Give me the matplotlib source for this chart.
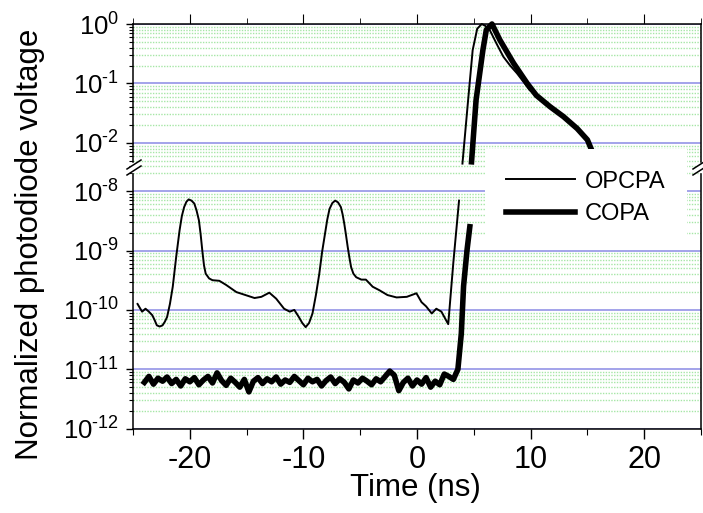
import numpy as np
import matplotlib.pyplot as plt
from matplotlib.ticker import LogLocator, FuncFormatter, MultipleLocator, NullFormatter
from matplotlib.lines import Line2D
import matplotlib.patches as patches

plt.rcParams['font.family'] = ['Liberation Sans', 'DejaVu Sans']
plt.rcParams['mathtext.fontset'] = 'custom'
plt.rcParams['mathtext.rm'] = 'Liberation Sans'
plt.rcParams['mathtext.default'] = 'regular'
plt.rcParams['axes.unicode_minus'] = False

# OPCPA, lower (ASE pedestal) part: time (ns), log10 of normalized voltage
opcpa_low_t = [-24.6, -24.2, -23.9, -23.6, -23.3, -23.1, -22.9, -22.65, -22.4, -22.2,
               -22.0, -21.75, -21.5, -21.2, -20.9, -20.7, -20.5, -20.3, -20.1, -19.85,
               -19.6, -19.4, -19.2, -19.05, -18.9, -18.75, -18.6, -18.3, -18.0, -17.4,
               -16.8, -15.9, -15.1, -14.3, -13.7, -13.0, -12.4, -11.7, -11.2, -10.8,
               -10.4, -10.1, -9.8, -9.5, -9.2, -8.9, -8.6, -8.35, -8.1, -7.9,
               -7.7, -7.45, -7.2, -6.95, -6.7, -6.55, -6.4, -6.25, -6.1, -5.95,
               -5.8, -5.6, -5.35, -4.9, -4.5, -3.9, -3.3, -2.6, -1.8, -0.9,
               -0.05, 0.4, 0.8, 1.3, 1.7, 2.15, 2.75, 3.2, 3.7]
opcpa_low_v = [-9.90, -10.03, -9.98, -10.03, -10.09, -10.17, -10.26, -10.28, -10.26, -10.20,
               -10.12, -9.90, -9.61, -9.11, -8.66, -8.42, -8.27, -8.18, -8.14, -8.16,
               -8.21, -8.33, -8.49, -8.72, -9.00, -9.25, -9.39, -9.47, -9.50, -9.51,
               -9.58, -9.70, -9.75, -9.80, -9.78, -9.71, -9.81, -9.98, -10.03, -10.00,
               -10.12, -10.22, -10.29, -10.22, -10.06, -9.75, -9.39, -9.02, -8.72, -8.48,
               -8.30, -8.20, -8.16, -8.19, -8.27, -8.39, -8.55, -8.74, -8.94, -9.12,
               -9.28, -9.39, -9.45, -9.49, -9.49, -9.61, -9.67, -9.75, -9.79, -9.78,
               -9.72, -9.87, -9.94, -10.06, -9.98, -10.03, -10.24, -9.20, -8.16]

# OPCPA, upper (main pulse) part
opcpa_high_t = [4.0, 4.5, 4.9, 5.3, 5.7, 6.0, 6.4, 7.0, 7.6, 8.2, 8.8, 9.4, 9.9,
                10.5, 11.7, 12.9, 14.1, 15.0, 15.5, 15.8]
opcpa_high_v = [-2.35, -1.28, -0.44, -0.08, 0.0, -0.03, -0.10, -0.33, -0.55, -0.70,
                -0.83, -0.98, -1.11, -1.20, -1.39, -1.56, -1.76, -1.95, -2.18, -2.21]

# COPA, lower part (noise floor and rising edge)
copa_low_t = [-24.0, -23.6, -23.2, -22.8, -22.4, -22.0, -21.6, -21.2, -20.8, -20.4,
              -20.0, -19.6, -19.2, -18.8, -18.4, -18.0, -17.6, -17.2, -16.8, -16.4,
              -16.0, -15.6, -15.2, -14.8, -14.4, -14.0, -13.6, -13.2, -12.8, -12.4,
              -12.0, -11.6, -11.2, -10.8, -10.4, -10.0, -9.6, -9.2, -8.8, -8.4,
              -8.0, -7.6, -7.2, -6.8, -6.4, -6.0, -5.6, -5.2, -4.8, -4.4,
              -4.0, -3.6, -3.2, -2.8, -2.4, -2.0, -1.6, -1.2, -0.8, -0.4,
              0.0, 0.4, 0.8, 1.2, 1.6, 2.0, 2.4, 2.8, 3.2,
              3.6, 3.9, 4.1, 4.4, 4.65]
copa_low_v = [-11.22, -11.12, -11.25, -11.15, -11.20, -11.13, -11.24, -11.17, -11.28, -11.16,
              -11.21, -11.14, -11.26, -11.18, -11.12, -11.23, -11.06, -11.19, -11.27, -11.15,
              -11.22, -11.30, -11.17, -11.38, -11.20, -11.14, -11.24, -11.16, -11.21, -11.13,
              -11.25, -11.18, -11.22, -11.12, -11.19, -11.26, -11.15, -11.21, -11.17, -11.28,
              -11.19, -11.13, -11.24, -11.16, -11.22, -11.33, -11.18, -11.23, -11.15, -11.20,
              -11.26, -11.16, -11.21, -11.12, -11.03, -11.10, -11.36, -11.22, -11.15, -11.28,
              -11.18, -11.25, -11.14, -11.30, -11.20, -11.26, -11.08, -11.12, -11.17,
              -11.00, -10.40, -9.60, -9.00, -8.60]

# COPA, upper part
copa_high_t = [4.8, 5.2, 5.8, 6.1, 6.6, 7.3, 8.5, 9.7, 10.5, 11.7, 12.9, 14.1, 15.0, 15.5, 15.8]
copa_high_v = [-2.32, -1.28, -0.44, -0.10, 0.0, -0.27, -0.66, -1.00, -1.20, -1.39,
               -1.56, -1.76, -1.95, -2.18, -2.21]

W, H = 703, 513


def fx(px):
    return px / W


def fy(py):
    return 1 - py / H


fig = plt.figure(figsize=(7.03, 5.13), dpi=100)
ax_top = fig.add_axes([fx(133), fy(168), fx(701) - fx(133), fy(24) - fy(168)])
ax_bot = fig.add_axes([fx(133), fy(428.7), fx(701) - fx(133), fy(168) - fy(428.7)])

fmt = FuncFormatter(lambda v, p: r'$10^{\text{-}%d}$' % abs(int(round(np.log10(v))))
                    if v < 0.5 else r'$10^{0}$')

for ax in (ax_top, ax_bot):
    ax.set_yscale('log')
    ax.set_xlim(-25, 25)
    ax.yaxis.set_major_locator(LogLocator(base=10, numticks=30))
    ax.yaxis.set_minor_locator(LogLocator(base=10, subs=np.arange(2, 10), numticks=30))
    ax.yaxis.set_major_formatter(fmt)
    ax.yaxis.set_minor_formatter(NullFormatter())
    ax.xaxis.set_major_locator(MultipleLocator(10))
    ax.xaxis.set_minor_locator(MultipleLocator(5))
    ax.set_axisbelow(True)
    ax.grid(True, which='minor', axis='y', color='#a6e6a6', lw=1.0, ls=(0, (1, 1)))
    ax.grid(True, which='major', axis='y', color='#9c9ce8', lw=1.3)
    ax.tick_params(axis='y', which='major', direction='out', length=5, width=1,
                   labelsize=18.5, pad=5, right=False)
    ax.tick_params(axis='y', which='minor', direction='out', length=3, width=0.8, right=False)
    for s in ax.spines.values():
        s.set_linewidth(1.1)

ax_top.set_ylim(10 ** -2.424, 1)
ax_bot.set_ylim(1e-12, 10 ** -7.611)

ax_top.spines['bottom'].set_visible(False)
ax_bot.spines['top'].set_visible(False)
ax_top.tick_params(axis='x', which='both', bottom=False, top=True, labelbottom=False,
                   labeltop=False, direction='out')
ax_top.tick_params(axis='x', which='major', length=7)
ax_top.tick_params(axis='x', which='minor', length=4)
ax_bot.tick_params(axis='x', which='both', top=False, direction='out')
ax_bot.tick_params(axis='x', which='major', length=7, width=1, labelsize=22, pad=5)
ax_bot.tick_params(axis='x', which='minor', length=4, width=0.8)

thin, thick = 1.4, 4.0
ax_bot.plot(opcpa_low_t, 10 ** np.array(opcpa_low_v), color='black', lw=thin,
            solid_joinstyle='round')
ax_bot.plot(copa_low_t, 10 ** np.array(copa_low_v), color='black', lw=thick,
            solid_joinstyle='round')
ax_top.plot(opcpa_high_t, 10 ** np.array(opcpa_high_v), color='black', lw=thin,
            solid_joinstyle='round', clip_on=False)
ax_top.plot(copa_high_t, 10 ** np.array(copa_high_v), color='black', lw=thick,
            solid_joinstyle='round', clip_on=False)

# axis break marks
for xc in (134, 700):
    fig.patches.append(patches.Rectangle((fx(xc - 3), fy(172)), fx(6), fy(163) - fy(172),
                                         transform=fig.transFigure, color='white', zorder=10))
    for dy in (-3, 3):
        fig.lines.append(Line2D([fx(xc - 7), fx(xc + 7)], [fy(172 + dy), fy(163 + dy)],
                                transform=fig.transFigure, color='black', lw=1.1, zorder=11))

handles = [Line2D([], [], color='black', lw=thin), Line2D([], [], color='black', lw=thick)]
fig.legend(handles, ['OPCPA', 'COPA'], loc='center', bbox_to_anchor=(fx(586), fy(198)),
           frameon=True, fancybox=False, edgecolor='none', facecolor='white', framealpha=1,
           fontsize=17, handlelength=2.9, handletextpad=0.45, borderpad=0.9, labelspacing=0.45)

fig.text(fx(30), fy(244), 'Normalized photodiode voltage', rotation=90, ha='center',
         va='center', fontsize=22.5)
fig.text(fx(415), fy(488), 'Time (ns)', ha='center', va='center', fontsize=22.5)

fig.savefig('out.png', dpi=100)
